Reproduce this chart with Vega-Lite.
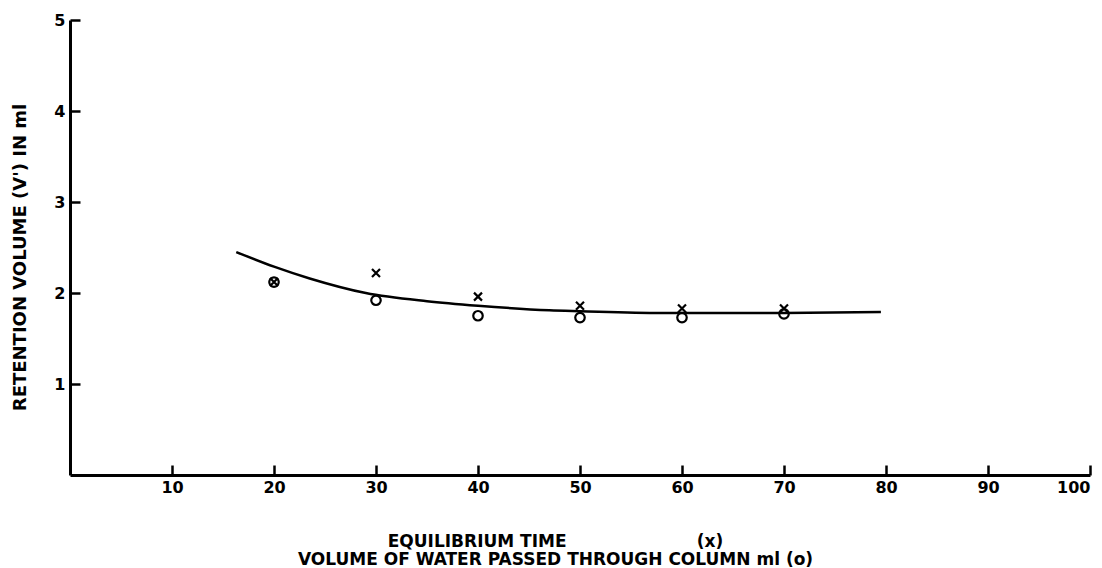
{
  "$schema": "https://vega.github.io/schema/vega-lite/v6.json",
  "width": 1020,
  "height": 455,
  "autosize": {"type": "none"},
  "padding": {"left": 70, "top": 20, "right": 12, "bottom": 93},
  "background": "white",
  "config": {
    "view": {"stroke": null},
    "font": "DejaVu Sans",
    "axis": {
      "domainColor": "black",
      "domainWidth": 3,
      "tickColor": "black",
      "tickWidth": 2.5,
      "tickSize": -10,
      "grid": false,
      "format": "d",
      "labelColor": "black",
      "labelFont": "DejaVu Sans",
      "labelFontWeight": "bold",
      "labelFontSize": 16,
      "titleColor": "black",
      "titleFont": "DejaVu Sans",
      "titleFontWeight": "bold"
    }
  },
  "datasets": {
    "curve": [
      {"x": 16.3, "y": 2.45},
      {"x": 20, "y": 2.29},
      {"x": 23.5, "y": 2.16},
      {"x": 29, "y": 2.0},
      {"x": 35, "y": 1.91},
      {"x": 40, "y": 1.86},
      {"x": 47, "y": 1.81},
      {"x": 50, "y": 1.8},
      {"x": 58, "y": 1.78},
      {"x": 65, "y": 1.78},
      {"x": 70, "y": 1.78},
      {"x": 79.5, "y": 1.79}
    ],
    "points": [
      {"x": 20, "y": 2.12, "marker": "o"},
      {"x": 20, "y": 2.12, "marker": "x"},
      {"x": 30, "y": 2.22, "marker": "x"},
      {"x": 30, "y": 1.92, "marker": "o"},
      {"x": 40, "y": 1.96, "marker": "x"},
      {"x": 40, "y": 1.75, "marker": "o"},
      {"x": 50, "y": 1.86, "marker": "x"},
      {"x": 50, "y": 1.73, "marker": "o"},
      {"x": 60, "y": 1.83, "marker": "x"},
      {"x": 60, "y": 1.73, "marker": "o"},
      {"x": 70, "y": 1.83, "marker": "x"},
      {"x": 70, "y": 1.77, "marker": "o"}
    ]
  },
  "layer": [
    {
      "data": {"name": "curve"},
      "mark": {"type": "line", "interpolate": "monotone", "color": "black", "strokeWidth": 2.5},
      "encoding": {
        "x": {
          "field": "x",
          "type": "quantitative",
          "scale": {"domain": [0, 100], "nice": false},
          "axis": {
            "values": [10, 20, 30, 40, 50, 60, 70, 80, 90, 100],
            "labelPadding": 14,
            "title": ["EQUILIBRIUM TIME\u00a0\u00a0\u00a0\u00a0\u00a0\u00a0\u00a0\u00a0\u00a0\u00a0\u00a0\u00a0\u00a0\u00a0\u00a0\u00a0\u00a0\u00a0\u00a0\u00a0\u00a0\u00a0(x)", "VOLUME OF WATER PASSED THROUGH COLUMN ml (o)"],
            "titleFontSize": 17,
            "titleX": 485,
            "titleY": 71,
            "titleAlign": "center",
            "titleBaseline": "alphabetic",
            "titleLineHeight": 18
          }
        },
        "y": {
          "field": "y",
          "type": "quantitative",
          "scale": {"domain": [0, 5], "nice": false},
          "axis": {
            "values": [1, 2, 3, 4, 5],
            "labelPadding": 15,
            "title": "RETENTION VOLUME (V') IN ml",
            "titleFontSize": 18,
            "titleX": -50,
            "titleY": 237,
            "titleAngle": -90,
            "titleAlign": "center",
            "titleBaseline": "middle"
          }
        }
      }
    },
    {
      "data": {"name": "points"},
      "mark": {"type": "point", "filled": false, "stroke": "black", "strokeWidth": 2.2, "opacity": 1},
      "encoding": {
        "x": {"field": "x", "type": "quantitative"},
        "y": {"field": "y", "type": "quantitative"},
        "shape": {
          "field": "marker",
          "type": "nominal",
          "scale": {"domain": ["x", "o"], "range": ["M-1,-1L1,1M1,-1L-1,1", "circle"]},
          "legend": null
        },
        "size": {
          "field": "marker",
          "type": "nominal",
          "scale": {"domain": ["x", "o"], "range": [64, 90]},
          "legend": null
        }
      }
    }
  ]
}
